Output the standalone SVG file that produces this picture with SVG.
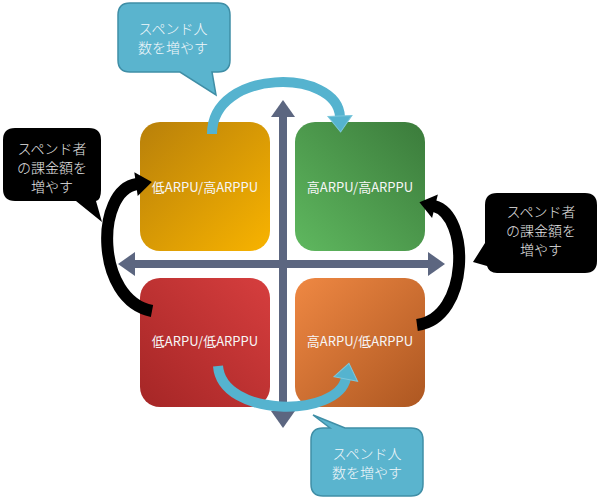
<svg xmlns="http://www.w3.org/2000/svg" width="600" height="500" viewBox="0 0 600 500">
<defs>
<style>
.lbl{font-family:"Noto Sans CJK JP","Noto Sans",sans-serif;font-size:13px;fill:#f6f6f6;text-anchor:middle}
.ct{font-family:"Noto Sans CJK JP","Noto Sans",sans-serif;font-size:14px;font-weight:300;text-anchor:middle}
.cb{fill:#5ab4ce;stroke:#3f8ea6;stroke-width:1.5}
.ck{fill:#000}
.axis{fill:#5c6680}
.band{fill:none;stroke:#55b3cf;stroke-width:10}
.kband{fill:none;stroke:#000;stroke-width:12}
</style>
<linearGradient id="gTL" x1="0" y1="0" x2="1" y2="1"><stop offset="0" stop-color="#b8800a"/><stop offset="1" stop-color="#f8b300"/></linearGradient>
<linearGradient id="gTR" x1="1" y1="0" x2="0" y2="1"><stop offset="0" stop-color="#3b7b3b"/><stop offset="1" stop-color="#5fb85f"/></linearGradient>
<linearGradient id="gBL" x1="1" y1="0" x2="0" y2="1"><stop offset="0" stop-color="#d63e3e"/><stop offset="1" stop-color="#a52626"/></linearGradient>
<linearGradient id="gBR" x1="0" y1="0" x2="1" y2="1"><stop offset="0" stop-color="#ef8843"/><stop offset="1" stop-color="#ad5721"/></linearGradient>
<marker id="bh" markerUnits="userSpaceOnUse" markerWidth="20" markerHeight="28" viewBox="0 -14 20 28" refX="1" refY="0" orient="auto" overflow="visible"><path d="M0,-12 L16,0 L0,12 Z" fill="#55b3cf" stroke="#7cc7dc" stroke-width="1"/></marker>
<marker id="kh" markerUnits="userSpaceOnUse" markerWidth="20" markerHeight="28" viewBox="0 -14 20 28" refX="1" refY="0" orient="auto" overflow="visible"><path d="M0,-12 L16,0 L0,12 Z" fill="#000"/></marker>
</defs>

<g id="box-tl"><rect x="140" y="122" width="130" height="129" rx="20" fill="url(#gTL)"/><text class="lbl" x="205" y="192">低ARPU/高ARPPU</text></g>
<g id="box-tr"><rect x="295" y="122" width="130" height="129" rx="20" fill="url(#gTR)"/><text class="lbl" x="360" y="192">高ARPU/高ARPPU</text></g>
<g id="box-bl"><rect x="140" y="278" width="130" height="129" rx="20" fill="url(#gBL)"/><text class="lbl" x="205" y="346">低ARPU/低ARPPU</text></g>
<g id="box-br"><rect x="295" y="278" width="130" height="129" rx="20" fill="url(#gBR)"/><text class="lbl" x="360" y="346">高ARPU/低ARPPU</text></g>

<g id="axes" class="axis">
<rect x="279" y="115" width="8" height="298"/>
<polygon points="283,100 271,117 295,117"/>
<polygon points="283,428 271,411 295,411"/>
<rect x="133" y="260" width="297" height="8"/>
<polygon points="118,264 135,252 135,276"/>
<polygon points="445,264 428,252 428,276"/>
</g>

<g id="connectors">
<path class="band" d="M 212 134 C 212 68, 338 68, 340 117" marker-end="url(#bh)"/>
<path class="band" d="M 218 366 C 222 418, 338 418, 346 378" marker-end="url(#bh)"/>
<path class="kband" d="M 152 311 C 95 300, 95 190, 137 184" marker-end="url(#kh)"/>
<path class="kband" d="M 417 325 C 470 318, 470 215, 434 206" marker-end="url(#kh)"/>
</g>

<g id="callout-top">
<path class="cb" d="M 130 3 H 218 Q 230 3 230 15 V 60 Q 230 72 218 72 H 212 L 216 95 L 180 72 H 130 Q 118 72 118 60 V 15 Q 118 3 130 3 Z"/>
<text class="ct" fill="#f2f8fb" x="173" y="34">スペンド人</text>
<text class="ct" fill="#f2f8fb" x="173" y="53">数を増やす</text>
</g>
<g id="callout-bottom">
<path class="cb" d="M 323 428 H 330 L 313 415 L 345 428 H 411 Q 423 428 423 440 V 484 Q 423 496 411 496 H 323 Q 311 496 311 484 V 440 Q 311 428 323 428 Z"/>
<text class="ct" fill="#f2f8fb" x="367" y="459">スペンド人</text>
<text class="ct" fill="#f2f8fb" x="367" y="478">数を増やす</text>
</g>
<g id="callout-left">
<path class="ck" d="M 15 128 H 89 Q 101 128 101 140 V 190 Q 101 200 96 201 L 102 222 L 76 201 H 15 Q 3 201 3 189 V 140 Q 3 128 15 128 Z"/>
<text class="ct" fill="#e6e6e6" x="52" y="154">スペンド者</text>
<text class="ct" fill="#e6e6e6" x="52" y="173">の課金額を</text>
<text class="ct" fill="#e6e6e6" x="52" y="192">増やす</text>
</g>
<g id="callout-right">
<path class="ck" d="M 497 193 H 585 Q 597 193 597 205 V 261 Q 597 273 585 273 H 497 Q 489 273 487 266 L 473 262 L 485 243 V 205 Q 485 193 497 193 Z"/>
<text class="ct" fill="#e6e6e6" x="541" y="217">スペンド者</text>
<text class="ct" fill="#e6e6e6" x="541" y="236">の課金額を</text>
<text class="ct" fill="#e6e6e6" x="541" y="255">増やす</text>
</g>
</svg>
